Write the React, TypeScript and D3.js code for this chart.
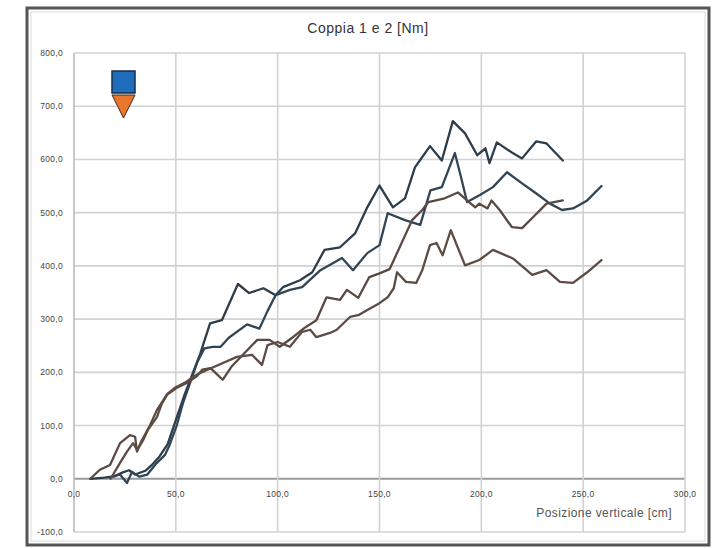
import React from "react";
import * as d3 from "d3";

const title = "Coppia 1 e 2 [Nm]";
const xAxisTitle = "Posizione verticale [cm]";
const xTicks = [0, 50, 100, 150, 200, 250, 300];
const yTicks = [-100, 0, 100, 200, 300, 400, 500, 600, 700, 800];

// Coppia 1 (blue), run A
const blueA: [number, number][] = [
  [8, 0], [15, 2], [20, 5], [24, 12], [27, 16], [30, 8], [35, 15], [38, 25], [42, 42], [46, 65],
  [50, 110], [54, 155], [58, 195], [62, 235], [66.8, 292], [72.6, 298], [80.5, 366], [86, 349],
  [93, 358], [99, 345], [102.6, 360], [111, 373], [117, 388], [123, 430], [130.6, 435], [138, 461],
  [144, 510], [150, 551], [156.6, 510], [162.5, 527], [167.4, 585], [174.8, 625], [180.6, 598],
  [186, 672], [192, 649], [198, 608], [202, 621], [204, 593], [207.6, 632], [215, 613], [220, 602],
  [227, 634], [232, 630], [240, 598],
];
// Coppia 1 (blue), run B
const blueB: [number, number][] = [
  [17.7, 2], [22.6, 8], [26, -8], [28.5, 13], [32, 4], [36, 8], [40.7, 30], [44.7, 45], [47, 64],
  [50.5, 101], [53.5, 142], [57, 180], [60.4, 218], [64, 245], [68, 248], [72, 248], [76, 265],
  [85, 290], [91, 282], [95, 315], [99, 345], [106, 355], [112, 360], [121, 392], [131.6, 415],
  [137, 392], [144, 424], [150, 439], [154, 499], [162.5, 486], [170, 477], [175, 542], [180.6, 548],
  [187, 612], [190, 567], [193, 520], [199.3, 533], [205.7, 548], [212.6, 576], [220, 555],
  [227, 536], [233.7, 517], [239.6, 505], [245, 508], [252, 523], [259, 550],
];
// Coppia 2 (orange), run C
const orangeC: [number, number][] = [
  [8, 0], [12.7, 17], [17.7, 26], [22.6, 67], [27.5, 82], [30, 79], [30.9, 51], [33, 70], [37, 98],
  [40.7, 129], [45.6, 158], [50.5, 171], [55.4, 180], [60.4, 193], [63, 205], [67, 208], [73, 186],
  [77.6, 212], [90, 261], [96, 261], [101, 248], [107.5, 266], [113, 283], [119, 298], [124, 341],
  [130.6, 336], [134, 355], [139.6, 340], [145, 379], [150, 386], [155, 394], [166, 486], [171, 505],
  [174, 520], [182, 527], [188.5, 538], [193, 523], [197, 510], [199, 517], [203, 508], [205, 523],
  [209, 505], [215, 473], [220, 471], [225, 490], [232, 517], [240, 523],
];
// Coppia 2 (orange), run D
const orangeD: [number, number][] = [
  [18, 0], [22.6, 30], [26, 51], [29, 67], [31, 54], [34, 73], [36.3, 92], [40.7, 116], [43, 140],
  [46, 160], [50, 172], [55, 182], [60, 195], [65, 204], [80, 229], [87.4, 233], [92.3, 214],
  [95, 251], [100, 257], [106, 248], [112, 276], [116, 280], [119, 266], [125.7, 274], [129, 280],
  [135.5, 304], [140, 308], [144, 317], [150, 330], [154, 341], [157, 358], [158.6, 388], [163, 370],
  [168, 368], [171, 392], [174.8, 439], [178, 443], [181, 420], [185, 467], [192, 401], [199, 411],
  [205.7, 430], [215.5, 414], [225, 383], [232, 392], [238.6, 370], [245, 368], [252, 388], [259, 411],
];

const series = [
  { name: "Coppia 1", data: blueA, color: "#2d3d4b" },
  { name: "Coppia 1", data: blueB, color: "#324555" },
  { name: "Coppia 2", data: orangeC, color: "#5a4940" },
  { name: "Coppia 2", data: orangeD, color: "#5d4c43" },
];

const fmt = (v: number) => v.toFixed(1).replace(".", ",");

export default function App() {
  const W = 718, H = 548;
  const x = d3.scaleLinear().domain([0, 300]).range([74, 685]);
  const y = d3.scaleLinear().domain([-100, 800]).range([532, 53]);
  const line = d3.line<[number, number]>().x((d) => x(d[0])).y((d) => y(d[1]));
  const font = "'Liberation Sans', Arial, sans-serif";

  return (
    <svg width={W} height={H} style={{ position: "absolute", left: 0, top: 0 }} fontFamily={font}>
      <rect x={0} y={0} width={W} height={H} fill="#ffffff" />
      <rect x={27} y={8} width={682} height={537} fill="#ffffff" stroke="#555555" strokeWidth={3} />
      <rect x={31} y={12} width={674} height={529} fill="none" stroke="#dcdcdc" strokeWidth={1} />
      <text x={368} y={33} textAnchor="middle" fontSize={14} letterSpacing={0.5} fill="#333">{title}</text>

      {yTicks.map((t) => (
        <line key={"gy" + t} x1={x(0)} x2={x(300)} y1={y(t)} y2={y(t)}
          stroke={t === 0 ? "#9a9a9a" : "#d2d2d2"} strokeWidth={t === 0 ? 2 : 1.6} />
      ))}
      {xTicks.map((t) => (
        <line key={"gx" + t} x1={x(t)} x2={x(t)} y1={y(800)} y2={y(-100)}
          stroke={t === 0 ? "#bcbcbc" : "#d2d2d2"} strokeWidth={1.6} />
      ))}

      {yTicks.map((t) => (
        <text key={"ly" + t} x={63} y={y(t) + 3} textAnchor="end" fontSize={8.5} letterSpacing={0.3} fill="#444">{fmt(t)}</text>
      ))}
      {xTicks.map((t) => (
        <text key={"lx" + t} x={x(t)} y={y(0) + 18} textAnchor="middle" fontSize={8.5} letterSpacing={0.3} fill="#444">{fmt(t)}</text>
      ))}
      <text x={672} y={517} textAnchor="end" fontSize={12} letterSpacing={0.4} fill="#555">{xAxisTitle}</text>

      {series.map((s, i) => (
        <path key={"s" + i} d={line(s.data) || ""} fill="none" stroke={s.color} strokeWidth={2.3}
          strokeLinejoin="round" strokeLinecap="round" />
      ))}

      <g>
        <rect x={112} y={71} width={23} height={22} fill="#1f6dbd" stroke="#1b2c45" strokeWidth={1.5} />
        <path d="M112,95 L135,95 L123.5,118 Z" fill="#e8772e" stroke="#3a2a20" strokeWidth={1} />
      </g>
    </svg>
  );
}
